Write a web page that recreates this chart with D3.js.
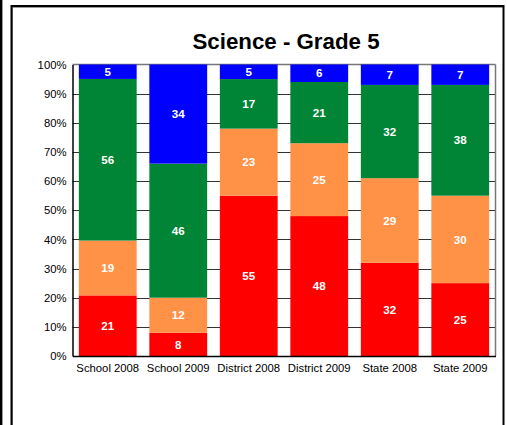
<!DOCTYPE html>
<html>
<head>
<meta charset="utf-8">
<script src="https://cdn.jsdelivr.net/npm/d3@7/dist/d3.min.js"></script>
<style>
  html, body { margin: 0; padding: 0; background: #fff; }
  svg { display: block; font-family: "Liberation Sans", Arial, sans-serif; }
</style>
</head>
<body>
<svg id="chart" width="507" height="425"></svg>
<script>
const categories = ["School 2008", "School 2009", "District 2008", "District 2009", "State 2008", "State 2009"];
const seriesNames = ["Level 1", "Level 2", "Level 3", "Level 4"];
const level1 = [21, 8, 55, 48, 32, 25];
const level2 = [19, 12, 23, 25, 29, 30];
const level3 = [56, 46, 17, 21, 32, 38];
const level4 = [5, 34, 5, 6, 7, 7];
const seriesColors = ["#ff0000", "#ff9246", "#008537", "#0000ff"];
const yTicks = [0, 0.1, 0.2, 0.3, 0.4, 0.5, 0.6, 0.7, 0.8, 0.9, 1.0];
const title = "Science - Grade 5";

const svg = d3.select("#chart");

// outer frames
svg.append("line").attr("x1", 1).attr("x2", 1).attr("y1", 0).attr("y2", 425)
  .attr("stroke", "#000").attr("stroke-width", 2);
svg.append("line").attr("x1", 2.5).attr("x2", 2.5).attr("y1", 0).attr("y2", 425)
  .attr("stroke", "#999").attr("stroke-width", 1);
svg.append("rect").attr("x", 12.5).attr("y", 7.5).attr("width", 491).attr("height", 500)
  .attr("fill", "none").attr("stroke", "#999").attr("stroke-width", 1);
svg.append("rect").attr("x", 11.5).attr("y", 6).attr("width", 492).attr("height", 500)
  .attr("fill", "none").attr("stroke", "#000").attr("stroke-width", 2);

const rows = categories.map((c, i) => ({
  category: c,
  [seriesNames[0]]: level1[i],
  [seriesNames[1]]: level2[i],
  [seriesNames[2]]: level3[i],
  [seriesNames[3]]: level4[i]
}));

const stacked = d3.stack().keys(seriesNames).offset(d3.stackOffsetExpand)(rows);

const plotLeft = 72.5, plotRight = 495.5, plotTop = 64.5, plotBottom = 356;

const x = d3.scaleBand().domain(categories).range([plotLeft, plotRight])
  .paddingInner(0.18).paddingOuter(0.09);
const y = d3.scaleLinear().domain([0, 1]).range([plotBottom, plotTop]);

// title
svg.append("text").attr("x", 286).attr("y", 49).attr("text-anchor", "middle")
  .attr("font-size", 22.3).attr("font-weight", "bold").attr("fill", "#000").text(title);

// gridlines
svg.append("g").selectAll("line").data(yTicks.slice(1, -1)).join("line")
  .attr("x1", plotLeft).attr("x2", plotRight)
  .attr("y1", d => Math.round(y(d)) + 0.5).attr("y2", d => Math.round(y(d)) + 0.5)
  .attr("stroke", "#333").attr("stroke-width", 1.2);

// plot frame top/right in gray
svg.append("line").attr("x1", plotLeft).attr("x2", plotRight).attr("y1", plotTop).attr("y2", plotTop)
  .attr("stroke", "#777").attr("stroke-width", 1.5);
svg.append("line").attr("x1", plotRight).attr("x2", plotRight).attr("y1", plotTop).attr("y2", plotBottom)
  .attr("stroke", "#777").attr("stroke-width", 1.5);

// bars
const layers = svg.append("g").selectAll("g").data(stacked).join("g")
  .attr("fill", (d, i) => seriesColors[i]);
layers.selectAll("rect").data(d => d).join("rect")
  .attr("x", d => x(d.data.category))
  .attr("width", x.bandwidth())
  .attr("y", d => y(d[1]))
  .attr("height", d => y(d[0]) - y(d[1]));

// value labels
stacked.forEach((layer, si) => {
  svg.append("g").selectAll("text").data(layer).join("text")
    .attr("x", d => x(d.data.category) + x.bandwidth() / 2)
    .attr("y", d => (y(d[0]) + y(d[1])) / 2)
    .attr("dy", "0.36em")
    .attr("text-anchor", "middle")
    .attr("font-size", 11.6).attr("font-weight", "bold").attr("fill", "#fff")
    .text(d => d.data[layer.key]);
});

// axes
const yAxis = d3.axisLeft(y).tickValues(yTicks).tickFormat(d3.format(".0%")).tickSize(0).tickPadding(6);
const gy = svg.append("g").attr("transform", `translate(${plotLeft},0)`).call(yAxis);
gy.select(".domain").attr("stroke", "#000").attr("stroke-width", 1.5);
gy.selectAll("text").attr("font-size", 11.3).attr("fill", "#000")
  .attr("font-family", "'Liberation Sans', Arial, sans-serif");

const xAxis = d3.axisBottom(x).tickSize(0).tickPadding(8);
const gx = svg.append("g").attr("transform", `translate(0,${plotBottom})`).call(xAxis);
gx.select(".domain").attr("stroke", "#000").attr("stroke-width", 1.5);
gx.selectAll("text").attr("font-size", 11.3).attr("fill", "#000")
  .attr("font-family", "'Liberation Sans', Arial, sans-serif");
</script>
</body>
</html>
